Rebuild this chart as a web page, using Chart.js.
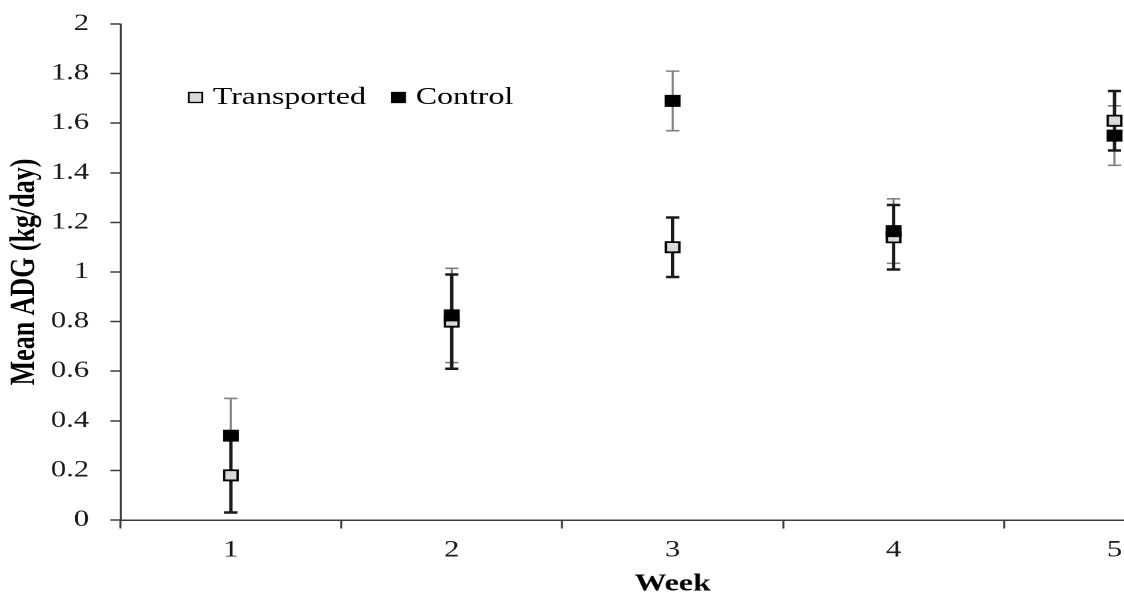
<!DOCTYPE html>
<html>
<head>
<meta charset="utf-8">
<script src="https://cdn.jsdelivr.net/npm/chart.js@4/dist/chart.umd.min.js"></script>
<style>
  html, body { margin: 0; padding: 0; background: #fff; }
  /* the source figure is stretched sideways and cut off on the right, so the
     canvas is drawn narrow and widened with a transform */
  #wrap { width: 1124px; height: 594px; overflow: hidden; position: relative; }
  #chart { transform-origin: 0 0; transform: scaleX(1.33); }
</style>
</head>
<body>
<div id="wrap">
  <canvas id="chart" width="930" height="594"></canvas>
</div>
<script>
// data
const weeks = ['1', '2', '3', '4', '5'];
const transportedMean = [0.18, 0.80, 1.10, 1.14, 1.61];
const transportedErr = [0.15, 0.19, 0.12, 0.13, 0.12];
const controlMean = [0.34, 0.825, 1.69, 1.165, 1.55];
const controlErr = [0.15, 0.19, 0.12, 0.13, 0.12];
const seriesNames = ['Transported', 'Control'];

const serif = 'Liberation Serif, Times New Roman, serif';
const axisColor = '#3a3a3a';

// vertical error bars with caps, drawn behind the markers
const errorBars = {
  id: 'errorBars',
  beforeDatasetsDraw(chart) {
    const ctx = chart.ctx;
    const y = chart.scales.y;
    // control first so transported bars sit on top of it
    [1, 0].forEach(i => {
      const ds = chart.data.datasets[i];
      const meta = chart.getDatasetMeta(i);
      ctx.save();
      ctx.strokeStyle = ds.errorColor;
      ctx.lineWidth = ds.errorWidth;
      meta.data.forEach((pt, j) => {
        const top = y.getPixelForValue(ds.data[j] + ds.errors[j]);
        const bot = y.getPixelForValue(ds.data[j] - ds.errors[j]);
        const half = 5;
        ctx.beginPath();
        ctx.moveTo(pt.x, top);
        ctx.lineTo(pt.x, bot);
        ctx.moveTo(pt.x - half, top);
        ctx.lineTo(pt.x + half, top);
        ctx.moveTo(pt.x - half, bot);
        ctx.lineTo(pt.x + half, bot);
        ctx.stroke();
      });
      ctx.restore();
    });
  }
};

// legend sits inside the plot, top left
const insideLegend = {
  id: 'insideLegend',
  afterDraw(chart) {
    const ctx = chart.ctx;
    const area = chart.chartArea;
    let x = area.left + 51.5;
    const yMid = 97.5;
    const box = 10;
    ctx.save();
    ctx.font = '24px ' + serif;
    ctx.textBaseline = 'alphabetic';
    chart.data.datasets.forEach(ds => {
      ctx.fillStyle = ds.backgroundColor;
      ctx.fillRect(x, yMid - box / 2, box, box);
      ctx.lineWidth = 1.3;
      ctx.strokeStyle = '#000';
      ctx.strokeRect(x, yMid - box / 2, box, box);
      ctx.fillStyle = '#000';
      const tx = x + 18;
      ctx.fillText(ds.label, tx, 104);
      x = tx + ctx.measureText(ds.label).width + 19.5;
    });
    ctx.restore();
  }
};

const ctx = document.getElementById('chart').getContext('2d');
new Chart(ctx, {
  type: 'line',
  data: {
    labels: weeks,
    datasets: [
      {
        label: seriesNames[0],
        data: transportedMean,
        errors: transportedErr,
        errorColor: '#1a1a1a',
        errorWidth: 2.5,
        showLine: false,
        pointStyle: 'rect',
        pointRadius: 7.2,
        pointBorderWidth: 1.8,
        backgroundColor: '#d9d9d9',
        borderColor: '#000',
        order: 1
      },
      {
        label: seriesNames[1],
        data: controlMean,
        errors: controlErr,
        errorColor: '#808080',
        errorWidth: 1.6,
        showLine: false,
        pointStyle: 'rect',
        pointRadius: 7.2,
        pointBorderWidth: 1.8,
        backgroundColor: '#000',
        borderColor: '#000',
        order: 0
      }
    ]
  },
  options: {
    responsive: false,
    devicePixelRatio: 2,
    animation: false,
    events: [],
    layout: { padding: { top: 24, right: 4.5, bottom: 0, left: 0 } },
    plugins: {
      legend: { display: false },
      tooltip: { enabled: false }
    },
    scales: {
      x: {
        offset: true,
        grid: {
          offset: true,
          drawOnChartArea: false,
          tickLength: 8.5,
          tickColor: axisColor,
          tickWidth: 1.5
        },
        border: { color: axisColor, width: 1.5 },
        ticks: {
          padding: 8,
          color: '#1a1a1a',
          font: { family: serif, size: 23 },
          maxRotation: 0
        },
        title: {
          display: true,
          text: 'Week',
          color: '#000',
          font: { family: serif, size: 24, weight: 'bold', lineHeight: 0.8 },
          padding: { top: 0, bottom: 0 }
        },
        afterFit(scale) { scale.height = 74; }
      },
      y: {
        min: 0,
        max: 2,
        grid: {
          drawOnChartArea: false,
          tickLength: 7.5,
          tickColor: axisColor,
          tickWidth: 1.5
        },
        border: { color: axisColor, width: 1.5 },
        ticks: {
          stepSize: 0.2,
          padding: 16,
          color: '#1a1a1a',
          // small line height keeps the label overhang from pushing the plot down
          font: { family: serif, size: 23, lineHeight: 0.6 },
          callback: v => String(+v.toFixed(1))
        },
        title: {
          display: true,
          text: 'Mean ADG (kg/day)',
          color: '#000',
          font: { family: serif, size: 26, weight: 'bold', lineHeight: 1 },
          padding: { top: 6, bottom: 0 }
        },
        afterFit(scale) { scale.width = 90.5; }
      }
    }
  },
  plugins: [errorBars, insideLegend]
});
</script>
</body>
</html>
